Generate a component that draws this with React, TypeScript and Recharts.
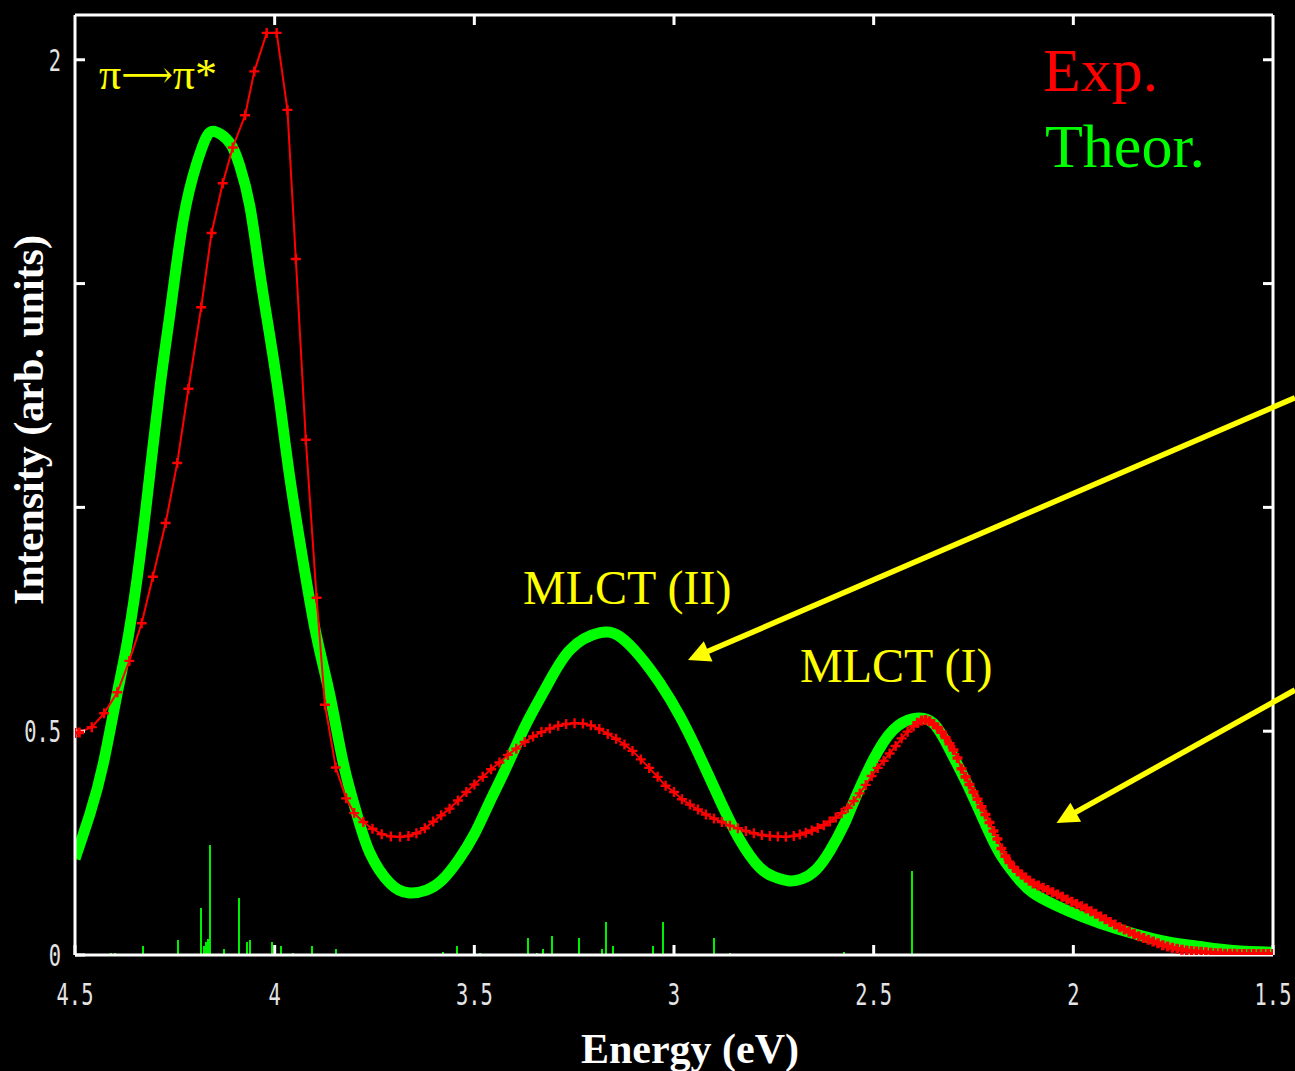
import React from "react";
import { ComposedChart, Line, Bar, XAxis, YAxis, ReferenceLine } from "recharts";

document.body.style.margin = "0";
document.body.style.background = "#000";

// measured absorption spectrum (eV / arb. units), sampled on an even wavelength grid
const expEnergy = [
  4.5, 4.49, 4.458, 4.427, 4.394, 4.364, 4.333, 4.305, 4.273, 4.244, 4.216, 4.184, 4.158, 4.13, 4.105, 4.074,
  4.051, 4.02, 3.995, 3.968, 3.947, 3.922, 3.895, 3.874, 3.847, 3.821, 3.801, 3.778, 3.755, 3.732, 3.709,
  3.686, 3.665, 3.645, 3.624, 3.603, 3.583, 3.562, 3.541, 3.52, 3.5, 3.479, 3.458, 3.437, 3.416, 3.395,
  3.374, 3.353, 3.332, 3.311, 3.29, 3.27, 3.249, 3.228, 3.208, 3.187, 3.166, 3.145, 3.124, 3.104, 3.083,
  3.062, 3.041, 3.021, 3.0, 2.98, 2.96, 2.94, 2.92, 2.9, 2.88, 2.86, 2.84, 2.82, 2.8, 2.78, 2.76, 2.74,
  2.72, 2.7, 2.685, 2.67, 2.655, 2.64, 2.625, 2.61, 2.595, 2.58, 2.565, 2.55, 2.535, 2.52, 2.505, 2.49,
  2.475, 2.46, 2.445, 2.43, 2.415, 2.4, 2.39, 2.38, 2.37, 2.36, 2.35, 2.34, 2.33, 2.32, 2.31, 2.3, 2.29,
  2.28, 2.27, 2.26, 2.25, 2.24, 2.23, 2.22, 2.21, 2.2, 2.19, 2.18, 2.17, 2.16, 2.15, 2.14, 2.13, 2.12,
  2.11, 2.1, 2.088, 2.076, 2.064, 2.052, 2.04, 2.028, 2.016, 2.004, 1.992, 1.98, 1.968, 1.956, 1.944,
  1.932, 1.92, 1.908, 1.896, 1.884, 1.872, 1.86, 1.848, 1.836, 1.824, 1.812, 1.8, 1.788, 1.776, 1.764,
  1.752, 1.74, 1.728, 1.716, 1.704, 1.692, 1.68, 1.668, 1.656, 1.644, 1.632, 1.62, 1.608, 1.596, 1.584,
  1.572, 1.56, 1.548, 1.536, 1.524, 1.512, 1.5,
];
const expIntensity = [
  0.496, 0.497, 0.509, 0.54, 0.587, 0.657, 0.741, 0.845, 0.965, 1.099, 1.265, 1.447, 1.613, 1.724, 1.804, 1.876,
  1.974, 2.06, 2.06, 1.888, 1.555, 1.151, 0.798, 0.559, 0.419, 0.35, 0.317, 0.297, 0.282, 0.27, 0.265,
  0.264, 0.266, 0.272, 0.283, 0.298, 0.312, 0.327, 0.345, 0.364, 0.381, 0.398, 0.415, 0.43, 0.447, 0.461,
  0.476, 0.488, 0.498, 0.506, 0.512, 0.516, 0.518, 0.517, 0.513, 0.505, 0.494, 0.483, 0.47, 0.456, 0.437,
  0.418, 0.398, 0.378, 0.364, 0.348, 0.336, 0.325, 0.314, 0.305, 0.297, 0.289, 0.283, 0.277, 0.272, 0.268,
  0.266, 0.265, 0.264, 0.266, 0.269, 0.273, 0.278, 0.284, 0.29, 0.298, 0.307, 0.317, 0.329, 0.344, 0.361,
  0.38, 0.4, 0.418, 0.434, 0.45, 0.467, 0.484, 0.499, 0.511, 0.519, 0.524, 0.525, 0.522, 0.516, 0.508,
  0.498, 0.486, 0.472, 0.458, 0.44, 0.416, 0.398, 0.381, 0.364, 0.348, 0.331, 0.314, 0.296, 0.277, 0.259,
  0.238, 0.221, 0.207, 0.196, 0.187, 0.18, 0.173, 0.166, 0.16, 0.155, 0.15, 0.145, 0.14, 0.135, 0.13,
  0.124, 0.119, 0.114, 0.109, 0.104, 0.098, 0.092, 0.086, 0.08, 0.074, 0.068, 0.062, 0.057, 0.052, 0.047,
  0.042, 0.038, 0.034, 0.03, 0.026, 0.022, 0.019, 0.016, 0.014, 0.012, 0.01, 0.009, 0.008, 0.007, 0.006,
  0.005, 0.004, 0.004, 0.003, 0.003, 0.003, 0.002, 0.002, 0.002, 0.002, 0.002, 0.002, 0.002, 0.002,
];

// broadened TD-DFT spectrum
const theoEnergy = [
  4.5, 4.462, 4.429, 4.396, 4.371, 4.345, 4.32, 4.287, 4.262, 4.229, 4.195, 4.17, 4.147, 4.112, 4.087,
  4.062, 4.037, 4.012, 3.987, 3.962, 3.928, 3.895, 3.861, 3.828, 3.795, 3.761, 3.711, 3.666, 3.62, 3.58,
  3.54, 3.5, 3.46, 3.419, 3.369, 3.319, 3.26, 3.185, 3.135, 3.085, 3.035, 2.985, 2.935, 2.885, 2.835,
  2.785, 2.75, 2.715, 2.68, 2.645, 2.61, 2.575, 2.551, 2.501, 2.451, 2.401, 2.351, 2.309, 2.267, 2.225,
  2.184, 2.142, 2.1, 2.017, 1.933, 1.85, 1.766, 1.683, 1.599, 1.5,
];
const theoIntensity = [
  0.215, 0.317, 0.428, 0.577, 0.689, 0.838, 1.017, 1.27, 1.434, 1.642, 1.769, 1.829, 1.839, 1.814, 1.762,
  1.672, 1.523, 1.382, 1.233, 1.066, 0.875, 0.711, 0.577, 0.428, 0.317, 0.227, 0.16, 0.139, 0.145, 0.168,
  0.212, 0.27, 0.345, 0.421, 0.518, 0.6, 0.682, 0.72, 0.711, 0.667, 0.607, 0.533, 0.443, 0.346, 0.257,
  0.195, 0.175, 0.166, 0.17, 0.19, 0.232, 0.29, 0.34, 0.436, 0.503, 0.528, 0.518, 0.458, 0.384, 0.302,
  0.227, 0.175, 0.138, 0.1, 0.071, 0.048, 0.03, 0.019, 0.01, 0.006,
];

// individual transitions (stick spectrum)
const stickEnergy = [
  4.41, 4.4, 4.33, 4.241, 4.184, 4.178, 4.172, 4.168, 4.163, 4.127, 4.089, 4.069, 4.062, 4.006, 3.984,
  3.953, 3.906, 3.847, 3.579, 3.543, 3.486, 3.365, 3.344, 3.327, 3.306, 3.238, 3.18, 3.171, 3.153, 3.053,
  3.027, 2.9, 2.859, 2.574, 2.403, 2.222, 2.043,
];
const stickStrength = [
  0.004, 0.004, 0.019, 0.034, 0.106, 0.02, 0.028, 0.035, 0.246, 0.013, 0.127, 0.03, 0.034, 0.028, 0.019,
  0.005, 0.019, 0.013, 0.007, 0.019, 0.005, 0.039, 0.005, 0.013, 0.043, 0.039, 0.013, 0.074, 0.019, 0.019,
  0.074, 0.037, 0.004, 0.007, 0.188, 0.003, 0.003,
];

const energyTicks = [4.5, 4, 3.5, 3, 2.5, 2, 1.5];
const intensityTicks = [0, 0.5, 1, 1.5, 2];
const labelledIntensity = [0, 0.5, 2];

// annotation arrows: [tail, tip] in (eV, intensity)
const arrowMLCT2 = [[1.445, 1.245], [2.965, 0.659]];
const arrowMLCT1 = [[1.445, 0.592], [2.042, 0.295]];

const expData = expEnergy.map((e, i) => ({ e, i: expIntensity[i] }));
const theoData = theoEnergy.map((e, i) => ({ e, i: theoIntensity[i] }));
const stickData = stickEnergy.map((e, i) => ({ e, i: stickStrength[i] }));

const W = 1295;
const H = 1071;
const E_MIN = 1.5;
const E_MAX = 4.5;
const I_MAX = 2.1;
// inward tick length (10px) expressed in axis units
const TICK_DX = 10 / (1198 / (E_MAX - E_MIN));
const TICK_DY = 10 / (940 / I_MAX);

const tickFont = "'DejaVu Sans Mono', 'Liberation Mono', monospace";
const serif = "'Liberation Serif', 'DejaVu Serif', serif";
const frame = { stroke: "#ffffff", strokeWidth: 3 };

function EnergyTick({ x, y, payload }: any) {
  return (
    <g transform={`translate(${x},${y}) scale(0.68,1)`}>
      <text x={0} y={22} textAnchor="middle" fill="#e4e4e4" fontSize={30} fontFamily={tickFont}>
        {String(payload.value)}
      </text>
    </g>
  );
}

function IntensityTick({ x, y, payload }: any) {
  if (!labelledIntensity.includes(payload.value)) return <g />;
  return (
    <g transform={`translate(${x},${y}) scale(0.68,1)`}>
      <text x={0} y={11} textAnchor="end" fill="#e4e4e4" fontSize={30} fontFamily={tickFont}>
        {String(payload.value)}
      </text>
    </g>
  );
}

// "+" marker; where the wavelength grid packs points closely the markers merge into a band
function PlusDot({ cx, cy, index }: any) {
  if (cx == null || cy == null) return <g key={index} />;
  const gap = index > 0 ? expEnergy[index - 1] - expEnergy[index] : 1;
  const w = gap < 0.0135 ? 3.6 : 2.4;
  return (
    <path
      key={index}
      d={`M${cx - 5},${cy}H${cx + 5}M${cx},${cy - 5}V${cy + 5}`}
      stroke="#ff0000"
      strokeWidth={w}
      fill="none"
    />
  );
}

// each transition as a 2px vertical stick
function Stick({ x, y, width, height }: any) {
  if (!height) return <g />;
  const cx = x + width / 2;
  return <rect x={cx - 1} y={y} width={2} height={height} fill="#00ee00" shapeRendering="crispEdges" />;
}

function Arrow({ x1, y1, x2, y2 }: any) {
  const dx = x2 - x1;
  const dy = y2 - y1;
  const len = Math.hypot(dx, dy);
  const ux = dx / len;
  const uy = dy / len;
  const bx = x2 - ux * 22;
  const by = y2 - uy * 22;
  const nx = -uy * 11;
  const ny = ux * 11;
  return (
    <g>
      <line x1={x1} y1={y1} x2={bx + ux * 2} y2={by + uy * 2} stroke="#ffff00" strokeWidth={5.5} />
      <polygon points={`${x2},${y2} ${bx + nx},${by + ny} ${bx - nx},${by - ny}`} fill="#ffff00" />
    </g>
  );
}

export default function App() {
  return (
    <div style={{ position: "relative", width: W, height: H, background: "#000", overflow: "hidden" }}>
      <ComposedChart width={W} height={H} data={stickData} margin={{ top: 15, right: 22, bottom: 0, left: 0 }}>
        <XAxis
          dataKey="e"
          type="number"
          domain={[E_MIN, E_MAX]}
          reversed
          ticks={energyTicks}
          height={116}
          axisLine={frame}
          tickLine={frame}
          tickSize={-10}
          tickMargin={38}
          tick={EnergyTick}
          allowDataOverflow
        />
        <YAxis
          type="number"
          domain={[0, I_MAX]}
          ticks={intensityTicks}
          width={75}
          axisLine={frame}
          tickLine={frame}
          tickSize={-10}
          tickMargin={24}
          tick={IntensityTick}
          allowDataOverflow
        />
        {/* top and right sides of the frame, with their inward ticks */}
        <ReferenceLine y={I_MAX} stroke="#ffffff" strokeWidth={3} ifOverflow="visible" />
        <ReferenceLine x={E_MIN} stroke="#ffffff" strokeWidth={3} ifOverflow="visible" />
        {energyTicks.slice(1, -1).map((t) => (
          <ReferenceLine
            key={`tt${t}`}
            segment={[{ x: t, y: I_MAX }, { x: t, y: I_MAX - TICK_DY }]}
            stroke="#ffffff"
            strokeWidth={3}
            ifOverflow="visible"
          />
        ))}
        {intensityTicks.slice(1).map((t) => (
          <ReferenceLine
            key={`rt${t}`}
            segment={[{ x: E_MIN, y: t }, { x: E_MIN + TICK_DX, y: t }]}
            stroke="#ffffff"
            strokeWidth={3}
            ifOverflow="visible"
          />
        ))}
        <Bar dataKey="i" barSize={2} fill="#00ee00" shape={Stick} isAnimationActive={false} />
        <Line
          data={theoData}
          dataKey="i"
          type="natural"
          stroke="#00ff00"
          strokeWidth={11}
          dot={false}
          isAnimationActive={false}
        />
        <Line
          data={expData}
          dataKey="i"
          type="linear"
          stroke="#ff0000"
          strokeWidth={2}
          dot={PlusDot}
          isAnimationActive={false}
        />
        <ReferenceLine
          segment={arrowMLCT2.map(([x, y]) => ({ x, y }))}
          ifOverflow="visible"
          shape={Arrow}
        />
        <ReferenceLine
          segment={arrowMLCT1.map(([x, y]) => ({ x, y }))}
          ifOverflow="visible"
          shape={Arrow}
        />
      </ComposedChart>
      <svg width={W} height={H} style={{ position: "absolute", left: 0, top: 0, pointerEvents: "none" }}>
        <text
          x={43}
          y={420}
          transform="rotate(-90, 43, 420)"
          textAnchor="middle"
          fill="#ffffff"
          fontSize={42}
          fontWeight="bold"
          fontFamily={serif}
        >
          Intensity (arb. units)
        </text>
        <text x={690} y={1063} textAnchor="middle" fill="#ffffff" fontSize={42} fontWeight="bold" fontFamily={serif}>
          Energy (eV)
        </text>
        <text x={99} y={89} fill="#ffff00" fontSize={44} fontFamily={serif}>
          <tspan>π</tspan>
          <tspan fontSize={36} dy={-2}>⟶</tspan>
          <tspan dy={2}>π*</tspan>
        </text>
        <text x={523} y={604} fill="#ffff00" fontSize={48} fontFamily={serif}>
          MLCT (II)
        </text>
        <text x={800} y={682} fill="#ffff00" fontSize={48} fontFamily={serif}>
          MLCT (I)
        </text>
        <text x={1043} y={91} fill="#ff0000" fontSize={62} fontFamily={serif}>
          Exp.
        </text>
        <text x={1045} y={167} fill="#00ff00" fontSize={62} fontFamily={serif}>
          Theor.
        </text>
      </svg>
    </div>
  );
}
